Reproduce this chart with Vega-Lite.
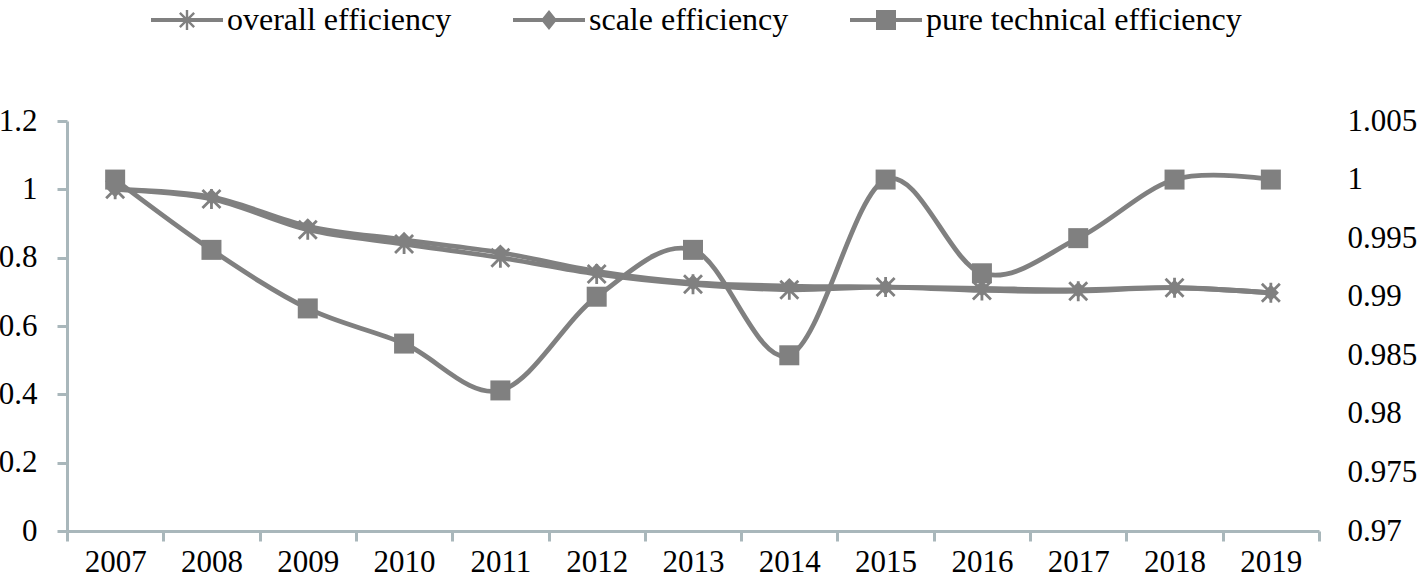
{
  "$schema": "https://vega.github.io/schema/vega-lite/v6.json",
  "width": 1252,
  "height": 410,
  "autosize": {"type": "none"},
  "padding": {"left": 67, "top": 121, "right": 105, "bottom": 49},
  "background": "white",
  "config": {
    "font": "Liberation Serif",
    "view": {"stroke": null},
    "axis": {"labelFont": "Liberation Serif", "labelFontSize": 31, "labelColor": "#000000", "grid": false},
    "legend": {"labelFont": "Liberation Serif", "labelFontSize": 32, "labelColor": "#000000", "labelLimit": 600, "symbolSize": 400, "padding": 0}
  },
  "data": {
    "values": [
      {"year": "2007", "series": "overall efficiency", "value": 1.000},
      {"year": "2008", "series": "overall efficiency", "value": 0.972},
      {"year": "2009", "series": "overall efficiency", "value": 0.882},
      {"year": "2010", "series": "overall efficiency", "value": 0.840},
      {"year": "2011", "series": "overall efficiency", "value": 0.800},
      {"year": "2012", "series": "overall efficiency", "value": 0.752},
      {"year": "2013", "series": "overall efficiency", "value": 0.722},
      {"year": "2014", "series": "overall efficiency", "value": 0.706},
      {"year": "2015", "series": "overall efficiency", "value": 0.714},
      {"year": "2016", "series": "overall efficiency", "value": 0.704},
      {"year": "2017", "series": "overall efficiency", "value": 0.702},
      {"year": "2018", "series": "overall efficiency", "value": 0.712},
      {"year": "2019", "series": "overall efficiency", "value": 0.697},
      {"year": "2007", "series": "scale efficiency", "value": 1.000},
      {"year": "2008", "series": "scale efficiency", "value": 0.978},
      {"year": "2009", "series": "scale efficiency", "value": 0.892},
      {"year": "2010", "series": "scale efficiency", "value": 0.852},
      {"year": "2011", "series": "scale efficiency", "value": 0.815},
      {"year": "2012", "series": "scale efficiency", "value": 0.760},
      {"year": "2013", "series": "scale efficiency", "value": 0.727},
      {"year": "2014", "series": "scale efficiency", "value": 0.717},
      {"year": "2015", "series": "scale efficiency", "value": 0.714},
      {"year": "2016", "series": "scale efficiency", "value": 0.710},
      {"year": "2017", "series": "scale efficiency", "value": 0.706},
      {"year": "2018", "series": "scale efficiency", "value": 0.712},
      {"year": "2019", "series": "scale efficiency", "value": 0.697},
      {"year": "2007", "series": "pure technical efficiency", "value": 1.000},
      {"year": "2008", "series": "pure technical efficiency", "value": 0.994},
      {"year": "2009", "series": "pure technical efficiency", "value": 0.989},
      {"year": "2010", "series": "pure technical efficiency", "value": 0.986},
      {"year": "2011", "series": "pure technical efficiency", "value": 0.982},
      {"year": "2012", "series": "pure technical efficiency", "value": 0.990},
      {"year": "2013", "series": "pure technical efficiency", "value": 0.994},
      {"year": "2014", "series": "pure technical efficiency", "value": 0.985},
      {"year": "2015", "series": "pure technical efficiency", "value": 1.000},
      {"year": "2016", "series": "pure technical efficiency", "value": 0.992},
      {"year": "2017", "series": "pure technical efficiency", "value": 0.995},
      {"year": "2018", "series": "pure technical efficiency", "value": 1.000},
      {"year": "2019", "series": "pure technical efficiency", "value": 1.000}
    ]
  },
  "encoding": {
    "x": {
      "field": "year",
      "type": "ordinal",
      "scale": {"type": "band", "paddingInner": 0, "paddingOuter": 0},
      "axis": {
        "title": null,
        "labelAngle": 0,
        "tickBand": "extent",
        "domainColor": "#A9B7BB",
        "domainWidth": 3,
        "tickColor": "#A9B7BB",
        "tickWidth": 3,
        "tickSize": 10,
        "labelPadding": 6
      }
    }
  },
  "layer": [
    {
      "transform": [{"filter": "datum.series !== 'pure technical efficiency'"}],
      "encoding": {
        "y": {
          "field": "value",
          "type": "quantitative",
          "scale": {"domain": [0, 1.2], "nice": false, "zero": false},
          "axis": {
            "title": null,
            "orient": "left",
            "values": [0, 0.2, 0.4, 0.6, 0.8, 1, 1.2],
            "format": ".1~f",
            "domainColor": "#A9B7BB",
            "domainWidth": 3,
            "tickColor": "#A9B7BB",
            "tickWidth": 3,
            "tickSize": 10,
            "labelPadding": 20
          }
        }
      },
      "layer": [
        {
          "mark": {"type": "line", "interpolate": "cardinal", "stroke": "#808080", "strokeWidth": 4.8},
          "encoding": {"detail": {"field": "series"}}
        },
        {
          "transform": [{"filter": "datum.series === 'overall efficiency'"}],
          "mark": {"type": "point", "shape": "M-0.9,-0.9L0.9,0.9M-0.9,0.9L0.9,-0.9M0,-1L0,1", "filled": false, "stroke": "#808080", "strokeWidth": 2.8, "size": 400, "opacity": 1},
          "encoding": {}
        },
        {
          "transform": [{"filter": "datum.series === 'scale efficiency'"}],
          "mark": {"type": "point", "shape": "diamond", "filled": true, "fill": "#808080", "strokeWidth": 0, "size": 260, "opacity": 1},
          "encoding": {}
        },
        {
          "transform": [{"filter": "false"}],
          "mark": {"type": "point", "filled": true, "fill": "#808080", "stroke": "#808080", "strokeWidth": 1, "size": 400, "opacity": 1},
          "encoding": {
            "shape": {
              "field": "series",
              "type": "nominal",
              "scale": {
                "domain": ["overall efficiency", "scale efficiency", "pure technical efficiency"],
                "range": [
                  "M-3.6,-0.2L3.6,-0.2L3.6,0.2L-3.6,0.2Z M-0.12,-1L0.12,-1L0.12,1L-0.12,1Z M-0.8,-0.63L-0.63,-0.8L0.8,0.63L0.63,0.8Z M-0.8,0.63L0.63,-0.8L0.8,-0.63L-0.63,0.8Z",
                  "M-3.6,-0.2L3.6,-0.2L3.6,0.2L-3.6,0.2Z M0,-1L0.8,0L0,1L-0.8,0Z",
                  "M-3.6,-0.2L3.6,-0.2L3.6,0.2L-3.6,0.2Z M-1,-1L1,-1L1,1L-1,1Z"
                ]
              },
              "legend": {
                "title": null,
                "orient": "none",
                "direction": "horizontal",
                "legendX": 104,
                "legendY": -117,
                "labelFont": "Liberation Serif",
                "labelFontSize": 32,
                "labelOffset": 24,
                "columnPadding": 59,
                "symbolSize": 400,
                "symbolStrokeWidth": 1,
                "symbolFillColor": "#808080",
                "symbolStrokeColor": "#808080"
              }
            }
          }
        }
      ]
    },
    {
      "transform": [{"filter": "datum.series === 'pure technical efficiency'"}],
      "encoding": {
        "y": {
          "field": "value",
          "type": "quantitative",
          "scale": {"domain": [0.97, 1.005], "nice": false, "zero": false},
          "axis": {
            "title": null,
            "orient": "right",
            "values": [0.97, 0.975, 0.98, 0.985, 0.99, 0.995, 1, 1.005],
            "format": ".3~f",
            "domain": false,
            "ticks": false,
            "labelPadding": 28
          }
        }
      },
      "layer": [
        {
          "mark": {"type": "line", "interpolate": "cardinal", "stroke": "#808080", "strokeWidth": 4.8},
          "encoding": {}
        },
        {
          "mark": {"type": "point", "shape": "square", "filled": true, "fill": "#808080", "strokeWidth": 0, "size": 400, "opacity": 1},
          "encoding": {}
        }
      ]
    }
  ],
  "resolve": {"scale": {"y": "independent"}}
}
